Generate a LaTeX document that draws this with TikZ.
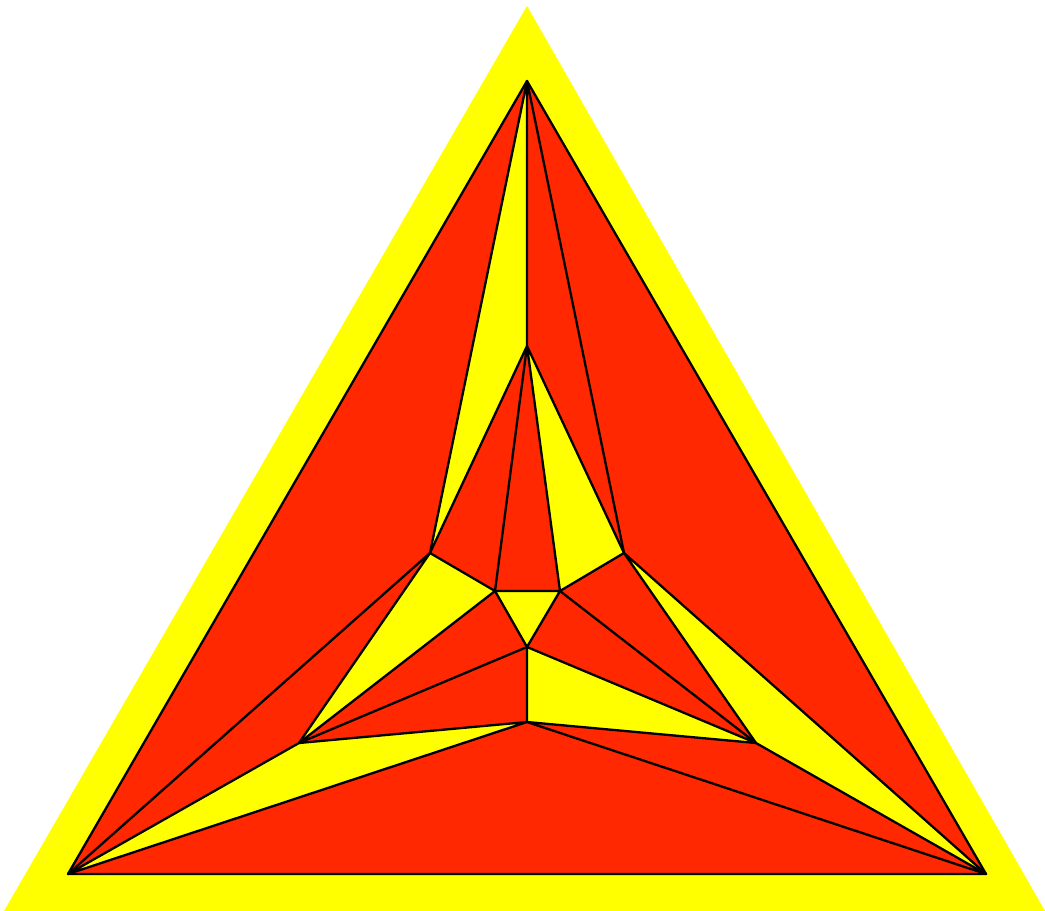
\documentclass[tikz,border=0pt]{standalone}
\definecolor{rd}{RGB}{255,40,0}
\definecolor{yl}{RGB}{255,255,0}
\begin{document}
\begin{tikzpicture}[x=1pt,y=-1pt,
  rface/.style={fill=rd},
  yface/.style={fill=yl},
  edge/.style={draw=black,line width=2.3pt,line join=round,line cap=round}]
\useasboundingbox (0,0) rectangle (1045,911);
\fill[yl] (527,6) -- (4,911) -- (1045,911) -- cycle;
\coordinate (A) at (527,81);
\coordinate (B) at (68,874);
\coordinate (C) at (986,874);
\coordinate (D) at (527,346);
\coordinate (E) at (430,553);
\coordinate (F) at (624,553);
\coordinate (G) at (495,591);
\coordinate (H) at (560,591);
\coordinate (I) at (527,647);
\coordinate (J) at (527,722);
\coordinate (K) at (299,743);
\coordinate (L) at (756,743);
% faces
\fill[rface] (A)--(B)--(E)--cycle;
\fill[yface] (A)--(E)--(D)--cycle;
\fill[rface] (A)--(D)--(F)--cycle;
\fill[rface] (A)--(F)--(C)--cycle;
\fill[rface] (D)--(E)--(G)--cycle;
\fill[rface] (D)--(G)--(H)--cycle;
\fill[yface] (D)--(H)--(F)--cycle;
\fill[yface] (E)--(G)--(K)--cycle;
\fill[rface] (E)--(K)--(B)--cycle;
\fill[yface] (G)--(H)--(I)--cycle;
\fill[rface] (G)--(I)--(K)--cycle;
\fill[rface] (H)--(F)--(L)--cycle;
\fill[rface] (H)--(I)--(L)--cycle;
\fill[yface] (F)--(L)--(C)--cycle;
\fill[rface] (I)--(J)--(K)--cycle;
\fill[yface] (I)--(J)--(L)--cycle;
\fill[yface] (K)--(J)--(B)--cycle;
\fill[rface] (J)--(L)--(C)--cycle;
\fill[rface] (J)--(B)--(C)--cycle;
% edges
\draw[edge] (A)--(B)--(C)--cycle;
\draw[edge] (A)--(D) (A)--(E) (A)--(F);
\draw[edge] (D)--(E) (D)--(F) (D)--(G) (D)--(H);
\draw[edge] (E)--(G) (F)--(H) (G)--(H) (G)--(I) (H)--(I);
\draw[edge] (I)--(J) (I)--(K) (I)--(L) (G)--(K) (H)--(L);
\draw[edge] (E)--(K) (F)--(L) (E)--(B) (F)--(C);
\draw[edge] (K)--(B) (L)--(C) (J)--(K) (J)--(L) (J)--(B) (J)--(C);
\end{tikzpicture}
\end{document}
